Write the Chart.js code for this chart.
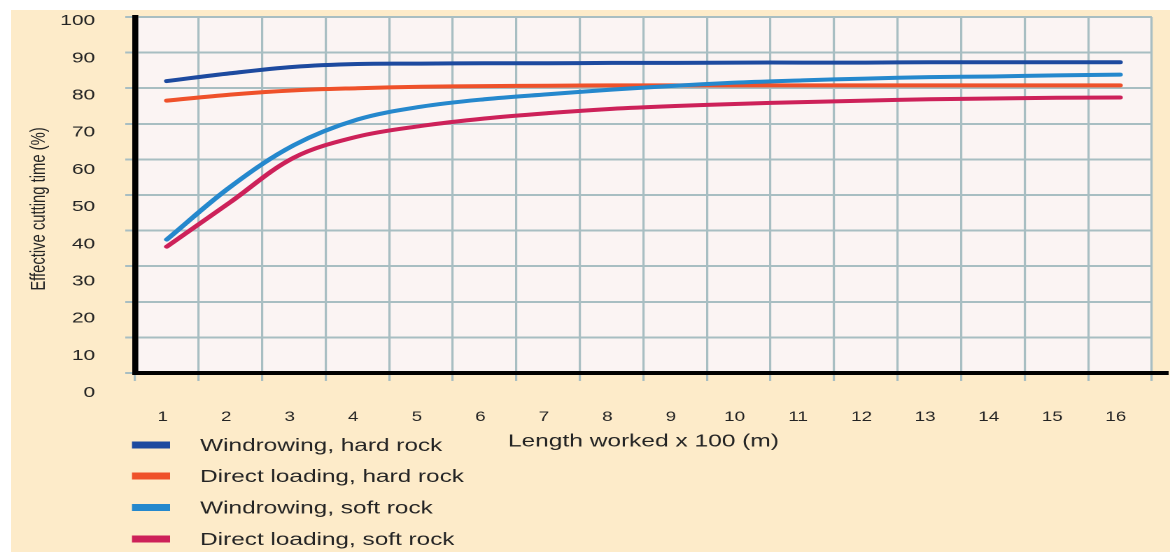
<!DOCTYPE html>
<html>
<head>
<meta charset="utf-8">
<script src="https://cdn.jsdelivr.net/npm/chart.js@4.4.1/dist/chart.umd.min.js"></script>
<style>
  html, body { margin: 0; padding: 0; background: #fff; overflow: hidden; }
  #panel { position: absolute; left: 11px; top: 10px; width: 1159px; height: 542px; background: #fdebc9; }
  /* the source picture is stretched sideways, so the chart is drawn narrow and widened */
  #wrap { position: absolute; left: 0; top: 0; width: 836px; height: 552px; transform: scaleX(1.39952); transform-origin: 0 0; }
</style>
</head>
<body>
<div id="panel"></div>
<div id="wrap"><canvas id="myChart"></canvas></div>
<script>
const lengths = ['1','2','3','4','5','6','7','8','9','10','11','12','13','14','15','16'];

const windrowingHard = [82, 84.2, 86, 86.8, 86.9, 87, 87, 87.1, 87.1, 87.2, 87.2, 87.2, 87.3, 87.3, 87.3, 87.3];
const directHard     = [76.5, 78.2, 79.4, 80, 80.4, 80.6, 80.7, 80.8, 80.8, 80.8, 80.8, 80.8, 80.8, 80.8, 80.8, 80.8];
const windrowingSoft = [37.5, 52.3, 64, 71.2, 74.8, 76.9, 78.3, 79.6, 80.7, 81.6, 82.2, 82.7, 83.1, 83.3, 83.6, 83.8];
const directSoft     = [35.5, 48, 60.5, 66.4, 69.4, 71.5, 73, 74.2, 75, 75.6, 76.1, 76.5, 76.9, 77.1, 77.3, 77.4];

const seriesNames  = ['Windrowing, hard rock', 'Direct loading, hard rock', 'Windrowing, soft rock', 'Direct loading, soft rock'];
const seriesColors = ['#1d4a9f', '#ef512a', '#2588cd', '#cd2159'];

const yTicks = [0, 10, 20, 30, 40, 50, 60, 70, 80, 90, 100];
const xTitle = 'Length worked x 100 (m)';
const yTitle = 'Effective cutting time (%)';

const fontFam = '"Liberation Sans", Arial, Helvetica, sans-serif';
const textColor = '#242424';
const gridColor = '#a8bec2';

const plotBg = {
    id: 'plotBg',
    beforeDraw(chart) {
        const {ctx, chartArea: a} = chart;
        ctx.save();
        ctx.fillStyle = '#fbf4f3';
        ctx.fillRect(a.left, a.top, a.right - a.left, a.bottom - a.top);
        ctx.restore();
    }
};

// y labels + title drawn by hand: in the source they drift down towards 0
const yText = {
    id: 'yText',
    afterDraw(chart) {
        const {ctx, chartArea: a} = chart;
        const y = chart.scales.y;
        ctx.save();
        ctx.fillStyle = textColor;
        ctx.font = '15px ' + fontFam;
        ctx.textAlign = 'right';
        ctx.textBaseline = 'middle';
        yTicks.forEach(v => {
            ctx.fillText(String(v), 68, y.getPixelForValue(v) + 4 + (100 - v) * 0.16);
        });
        ctx.translate(28, (a.top + a.bottom) / 2 + 14);
        ctx.rotate(-Math.PI / 2);
        ctx.textAlign = 'center';
        ctx.font = '14.8px ' + fontFam;
        ctx.fillText(yTitle, 0, 0);
        ctx.restore();
    }
};

const legendList = {
    id: 'legendList',
    afterDraw(chart) {
        const ctx = chart.ctx;
        const rows = [445, 476, 507.5, 539];
        ctx.save();
        ctx.font = '17.4px ' + fontFam;
        ctx.textBaseline = 'middle';
        ctx.textAlign = 'left';
        seriesNames.forEach((name, i) => {
            ctx.fillStyle = seriesColors[i];
            ctx.fillRect(94.3, rows[i] - 3.5, 27.2, 7);
            ctx.fillStyle = textColor;
            ctx.fillText(name, 143, rows[i] + 1);
        });
        ctx.restore();
    }
};

// x axis line runs on past the grid to the panel edge
const axisTail = {
    id: 'axisTail',
    afterDraw(chart) {
        const {ctx, chartArea: a} = chart;
        ctx.save();
        ctx.fillStyle = '#000';
        ctx.fillRect(a.right - 1, a.bottom - 2, chart.width - a.right, 4);
        ctx.restore();
    }
};

const allData = [windrowingHard, directHard, windrowingSoft, directSoft];
const drawOrder = [1, 3, 0, 2];

const ctx = document.getElementById('myChart').getContext('2d');
const myChart = new Chart(ctx, {
    type: 'line',
    data: {
        labels: lengths,
        datasets: allData.map((d, i) => ({
            label: seriesNames[i],
            data: d,
            borderColor: seriesColors[i],
            backgroundColor: seriesColors[i],
            borderWidth: 4,
            pointRadius: 0,
            tension: 0.35,
            borderCapStyle: 'round',
            borderJoinStyle: 'round',
            order: drawOrder[i]
        }))
    },
    options: {
        responsive: true,
        maintainAspectRatio: false,
        animation: false,
        devicePixelRatio: 2,
        layout: { padding: { left: 0, right: 7, top: 17, bottom: 0 } },
        plugins: {
            legend: { display: false },
            tooltip: { enabled: false }
        },
        scales: {
            x: {
                type: 'category',
                offset: true,
                grid: { offset: true, color: gridColor, lineWidth: 1.6, tickLength: 8 },
                border: { display: true, color: '#000', width: 4 },
                ticks: {
                    color: textColor,
                    font: { family: fontFam, size: 13.5 },
                    padding: 28,
                    labelOffset: -3,
                    autoSkip: false,
                    maxRotation: 0
                },
                title: {
                    display: true,
                    text: xTitle,
                    color: textColor,
                    font: { family: fontFam, size: 17.5 },
                    padding: { top: 0, bottom: 100 }
                },
                afterFit: s => { s.height = 179; }
            },
            y: {
                min: 0,
                max: 100,
                ticks: { display: false, stepSize: 10 },
                grid: { color: gridColor, lineWidth: 2, tickLength: 7 },
                border: { display: true, color: '#000', width: 4.3 },
                afterFit: s => { s.width = 96.5; }
            }
        }
    },
    plugins: [plotBg, yText, legendList, axisTail]
});
</script>
</body>
</html>
